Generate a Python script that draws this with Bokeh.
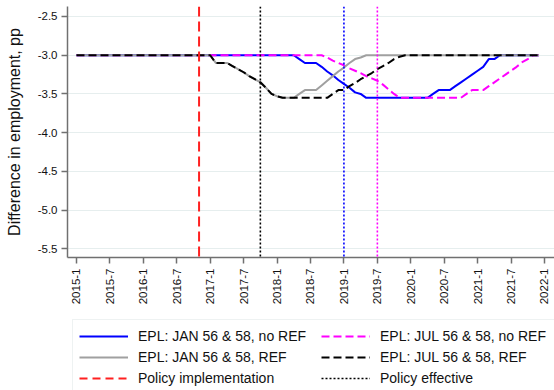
import math
from bokeh.plotting import figure
from bokeh.layouts import column
from bokeh.models import (Span, Legend, LegendItem, FixedTicker, Range1d,
                          PrintfTickFormatter)
from bokeh.embed import file_html
from bokeh.resources import INLINE

# ---- data (month index 0 = 2015-1) ----
months = list(range(84))
tick_months = list(range(0, 85, 6))
tick_labels = ["2015-1", "2015-7", "2016-1", "2016-7", "2017-1", "2017-7",
               "2018-1", "2018-7", "2019-1", "2019-7", "2020-1", "2020-7",
               "2021-1", "2021-7", "2022-1"]
y_ticks = [-5.5, -5.0, -4.5, -4.0, -3.5, -3.0, -2.5]

jan_noref = ([-3.0] * 40 +
             [-3.05, -3.1, -3.1, -3.1, -3.15, -3.21, -3.26, -3.32, -3.37,
              -3.42, -3.48, -3.5, -3.55] +
             [-3.55] * 11 +
             [-3.5, -3.45, -3.45, -3.45, -3.40, -3.35, -3.30, -3.25, -3.2,
              -3.15, -3.05, -3.05] +
             [-3.0] * 8)

jul_noref = ([-3.0] * 45 +
             [-3.03, -3.07, -3.10, -3.13, -3.17, -3.20, -3.23, -3.27, -3.30,
              -3.33, -3.38, -3.44, -3.5, -3.55] +
             [-3.55] * 11 +
             [-3.5, -3.45, -3.45, -3.45, -3.40, -3.35, -3.30, -3.25, -3.20,
              -3.15, -3.09, -3.05] +
             [-3.0] * 2)

jan_ref = ([-3.0] * 25 +
           [-3.1, -3.1, -3.1] +
           [-3.14, -3.18, -3.22, -3.27, -3.31, -3.35, -3.42, -3.5, -3.53] +
           [-3.55, -3.55, -3.55, -3.5, -3.45, -3.45, -3.45, -3.39, -3.33,
            -3.27, -3.21, -3.16, -3.10, -3.05, -3.03] +
           [-3.0] * 32)

jul_ref = ([-3.0] * 25 +
           [-3.1, -3.1, -3.1] +
           [-3.14, -3.18, -3.22, -3.27, -3.31, -3.35, -3.42, -3.5, -3.53] +
           [-3.55] * 9 +
           [-3.5, -3.45, -3.45] +
           [-3.40, -3.36, -3.31, -3.27, -3.23, -3.18, -3.14, -3.10, -3.05,
            -3.02] +
           [-3.0] * 25)

policy_implementation = 22   # 2016-11
policy_effective = 33        # 2017-10
effective_jan = 48           # 2019-1
effective_jul = 54           # 2019-7

legend_labels = ["EPL: JAN 56 & 58, no REF", "EPL: JUL 56 & 58, no REF",
                 "EPL: JAN 56 & 58, REF", "EPL: JUL 56 & 58, REF",
                 "Policy implementation", "Policy effective"]

FONT = "Liberation Sans"
RED, BLUE, MAG, GREY = "#ff2020", "#0000ff", "#ff00ff", "#a0a0a0"

p = figure(width=554, height=313, output_backend="svg", toolbar_location=None,
           x_range=Range1d(-1.615, 85.795), y_range=Range1d(-5.612, -2.371),
           min_border_left=67, min_border_right=0, min_border_top=6,
           min_border_bottom=56)
p.outline_line_color = None

# grid
p.xgrid.visible = False
p.ygrid.grid_line_color = "#e6eeee"
p.ygrid.grid_line_width = 1

# axes
for ax in (p.xaxis[0], p.yaxis[0]):
    ax.axis_line_color = "#707070"
    ax.axis_line_width = 1.5
    ax.major_tick_line_color = "#707070"
    ax.major_tick_line_width = 1.5
    ax.major_tick_out = 6
    ax.major_tick_in = 0
    ax.minor_tick_line_color = None
    ax.major_label_text_font = FONT
    ax.major_label_text_font_size = "11.5px"
    ax.major_label_text_color = "#111111"

p.xaxis.ticker = FixedTicker(ticks=tick_months)
p.xaxis.major_label_overrides = {m: lab for m, lab in zip(tick_months, tick_labels)}
p.xaxis.major_label_orientation = math.pi / 2
p.xaxis.major_label_standoff = 5

p.yaxis.ticker = FixedTicker(ticks=y_ticks)
p.yaxis.formatter = PrintfTickFormatter(format="%.1f")
p.yaxis.major_label_standoff = 4
p.yaxis.axis_label = "Difference in employment, pp"
p.yaxis.axis_label_text_font = FONT
p.yaxis.axis_label_text_font_size = "16px"
p.yaxis.axis_label_text_font_style = "normal"
p.yaxis.axis_label_text_color = "#111111"
p.yaxis.axis_label_standoff = 12

# vertical lines
p.add_layout(Span(location=policy_implementation, dimension="height",
                  line_color=RED, line_width=2, line_dash="10 5"))
p.add_layout(Span(location=policy_effective, dimension="height",
                  line_color="black", line_width=1.6, line_dash="2 2"))
p.add_layout(Span(location=effective_jan, dimension="height",
                  line_color=BLUE, line_width=1.6, line_dash="2 2"))
p.add_layout(Span(location=effective_jul, dimension="height",
                  line_color=MAG, line_width=1.6, line_dash="2 2"))

# series
p.line(months, jan_noref, line_color=BLUE, line_width=2)
p.line(months, jul_noref, line_color=MAG, line_width=2, line_dash="8 4")
p.line(months, jan_ref, line_color=GREY, line_width=2)
p.line(months, jul_ref, line_color="black", line_width=2, line_dash="8 4")

# ---- legend panel (separate figure below the chart) ----
q = figure(width=554, height=77, output_backend="svg", toolbar_location=None,
           x_range=Range1d(0, 1), y_range=Range1d(0, 1),
           x_axis_location=None, y_axis_location=None,
           min_border_left=0, min_border_right=0, min_border_top=0,
           min_border_bottom=0)
q.grid.visible = False
q.outline_line_color = None

styles = [dict(line_color=BLUE, line_width=2),
          dict(line_color=MAG, line_width=2, line_dash="8 4"),
          dict(line_color=GREY, line_width=2),
          dict(line_color="black", line_width=2, line_dash="8 4"),
          dict(line_color=RED, line_width=2, line_dash="8 5"),
          dict(line_color="black", line_width=1.6, line_dash="2 2")]
items = []
for lab, st in zip(legend_labels, styles):
    # off-screen placeholder renderer, used only for its legend glyph
    r = q.line([-3, -2], [-3, -2], **st)
    items.append(LegendItem(label=lab, renderers=[r]))

legend = Legend(items=items, location=(5, -5), orientation="horizontal", ncols=2)
legend.label_text_font = FONT
legend.label_text_font_size = "14px"
legend.label_text_color = "#111111"
legend.glyph_width = 49
legend.glyph_height = 20
legend.label_height = 20
legend.label_width = 182
legend.label_standoff = 10
legend.spacing = 1
legend.padding = 6
legend.margin = 0
legend.border_line_color = "#dde6e6"
legend.border_line_width = 1
legend.background_fill_color = "white"
legend.background_fill_alpha = 1
q.add_layout(legend, "center")

layout = column(p, q, spacing=0)
open("out.html", "w").write(file_html(layout, INLINE))
